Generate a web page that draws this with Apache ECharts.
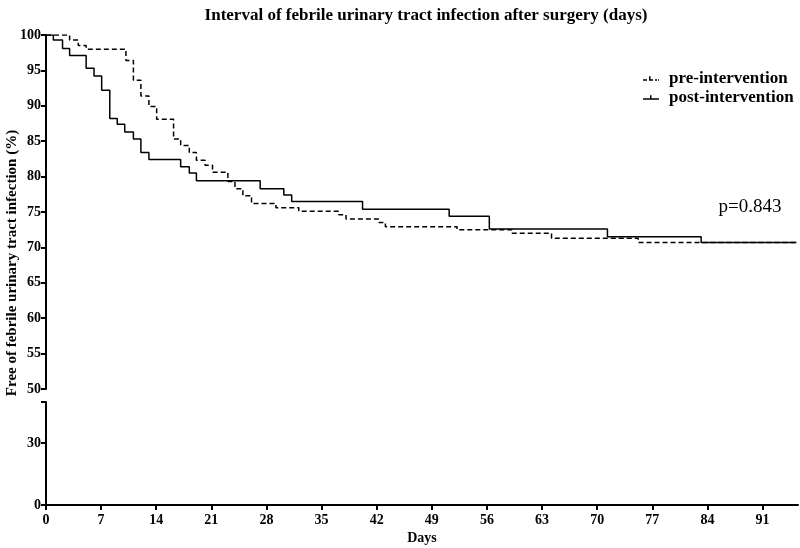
<!DOCTYPE html>
<html>
<head>
<meta charset="utf-8">
<script src="https://cdn.jsdelivr.net/npm/echarts@6/dist/echarts.min.js"></script>
<style>html,body{margin:0;padding:0;background:#fff}#c{width:800px;height:548px}</style>
</head>
<body>
<div id="c"></div>
<script>
// Kaplan-Meier step points: [day, % free of infection]
var preDays = [0, 3.0, 4.1, 5.1, 10.15, 11.1, 12.05, 13.07, 14.05, 16.2, 17.1, 18.2, 19.1, 20.2, 21.15, 23.1, 24.0, 25.0, 26.1, 29.2, 32.1, 37.2, 38.1, 42.3, 43.1, 52.2, 59.2, 64.2, 75.2, 95.3];
var preVals = [100, 99.3, 98.5, 98.0, 96.4, 93.6, 91.4, 89.9, 88.1, 85.3, 84.4, 83.4, 82.3, 81.6, 80.6, 79.3, 78.3, 77.3, 76.2, 75.6, 75.1, 74.6, 74.0, 73.5, 72.9, 72.5, 72.0, 71.3, 70.7, 70.7];
var postDays = [0, 0.93, 2.1, 3.0, 5.1, 6.1, 7.07, 8.1, 9.05, 10.0, 11.1, 12.05, 13.07, 17.1, 18.2, 19.1, 27.2, 30.2, 31.2, 40.2, 51.2, 56.3, 71.3, 83.2, 95.3];
var postVals = [100, 99.3, 98.1, 97.1, 95.3, 94.2, 92.2, 88.2, 87.4, 86.3, 85.3, 83.4, 82.4, 81.4, 80.5, 79.4, 78.3, 77.4, 76.5, 75.4, 74.4, 72.6, 71.5, 70.7, 70.7];
var seriesNames = ['pre-intervention', 'post-intervention'];
var xTicks = [0, 7, 14, 21, 28, 35, 42, 49, 56, 63, 70, 77, 84, 91];
var yUpperTicks = [50, 55, 60, 65, 70, 75, 80, 85, 90, 95, 100];
var yLowerTicks = [0, 30];
var pText = 'p=0.843';

function pairs(xs, ys) { return xs.map(function (x, i) { return [x, ys[i]]; }); }

var FONT = '"Liberation Serif", "Times New Roman", serif';
var chart = echarts.init(document.getElementById('c'), null, {renderer: 'canvas'});
var axisLine = {show: true, lineStyle: {color: '#000', width: 2}};
function tick(extra) { return Object.assign({show: true, inside: false, length: 5, lineStyle: {color: '#000', width: 2}}, extra || {}); }
function label(extra) { return Object.assign({color: '#000', fontFamily: FONT, fontWeight: 'bold', fontSize: 14}, extra || {}); }

chart.setOption({
  animation: false,
  backgroundColor: '#fff',
  title: {
    text: 'Interval of febrile urinary tract infection after surgery (days)',
    left: 421, textAlign: 'center', top: 2,
    textStyle: {fontFamily: FONT, fontWeight: 'bold', fontSize: 17, color: '#000'}
  },
  legend: {
    orient: 'vertical', left: 643, top: 70, itemGap: 2, padding: 0,
    itemWidth: 16, itemHeight: 5,
    textStyle: {fontFamily: FONT, fontWeight: 'bold', fontSize: 17, color: '#000', padding: [0, 0, 0, 5]},
    data: [
      {name: seriesNames[0], icon: 'path://M0,3H4V4.5H0Z M6,0H7.5V4.5H6Z M6,3H10V4.5H6Z M12,3H14V4.5H12Z M15,3H16V4.5H15Z'},
      {name: seriesNames[1], icon: 'path://M0,3H16V4.5H0Z M7,0H8.5V4.5H7Z'}
    ]
  },
  grid: [
    {left: 46, top: 35, right: 2, height: 354},
    {left: 46, top: 402, right: 2, height: 103}
  ],
  xAxis: [
    {type: 'value', gridIndex: 0, min: 0, max: 95.5, show: false},
    {type: 'value', gridIndex: 1, min: 0, max: 95.5, interval: 7,
     axisLine: axisLine, axisTick: tick({customValues: xTicks}), splitLine: {show: false},
     axisLabel: label({margin: 8, customValues: xTicks}),
     name: 'Days', nameLocation: 'middle', nameGap: 26,
     nameTextStyle: {fontFamily: FONT, fontWeight: 'bold', fontSize: 14, color: '#000'}}
  ],
  yAxis: [
    {type: 'value', gridIndex: 0, min: 50, max: 100, interval: 5,
     axisLine: axisLine, axisTick: tick(), splitLine: {show: false},
     axisLabel: label({margin: 5, customValues: yUpperTicks})},
    {type: 'value', gridIndex: 1, min: 0, max: 50, interval: 30,
     axisLine: axisLine, axisTick: tick(), splitLine: {show: false},
     axisLabel: label({margin: 5, customValues: yLowerTicks})}
  ],
  graphic: [
    {type: 'text', x: 12, y: 263, rotation: Math.PI / 2,
     style: {text: 'Free of febrile urinary tract infection (%)', fill: '#000',
             font: 'bold 15px ' + FONT, textAlign: 'center', textVerticalAlign: 'middle'}},
    {type: 'text', x: 750, y: 207,
     style: {text: pText, fill: '#000', font: '19px ' + FONT, textAlign: 'center', textVerticalAlign: 'middle'}}
  ],
  series: [
    {name: seriesNames[0], type: 'line', xAxisIndex: 0, yAxisIndex: 0, step: 'end',
     data: pairs(preDays, preVals), symbol: 'none', color: '#000',
     lineStyle: {color: '#000', width: 1.5, type: [5, 3]}},
    {name: seriesNames[1], type: 'line', xAxisIndex: 0, yAxisIndex: 0, step: 'end',
     data: pairs(postDays, postVals), symbol: 'none', color: '#000',
     lineStyle: {color: '#000', width: 1.5, type: 'solid'}}
  ]
});
</script>
</body>
</html>
